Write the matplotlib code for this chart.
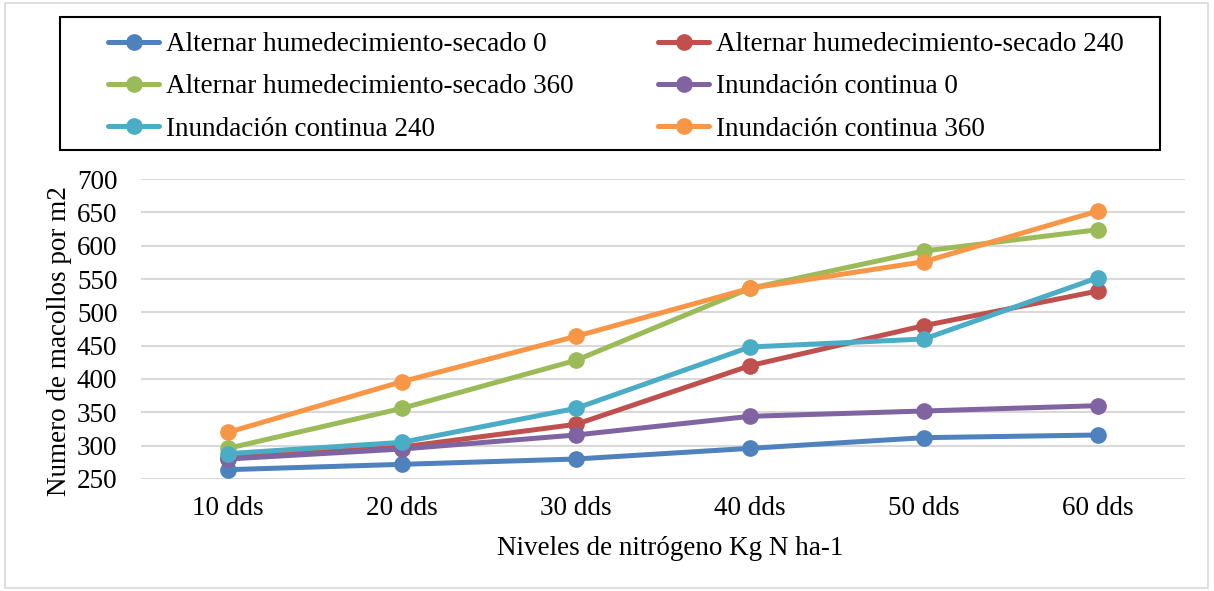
import matplotlib
matplotlib.use("Agg")
import matplotlib.pyplot as plt
from matplotlib.patches import Rectangle

# Tillers per m2 by sampling date, six water/N treatments
categories = ["10 dds", "20 dds", "30 dds", "40 dds", "50 dds", "60 dds"]

ahs_0 = [264, 272, 280, 296, 312, 316]
ahs_240 = [282, 298, 332, 420, 480, 532]
ahs_360 = [296, 356, 428, 536, 592, 624]
ic_0 = [280, 295, 316, 344, 352, 360]
ic_240 = [288, 305, 356, 448, 460, 552]
ic_360 = [320, 396, 464, 536, 576, 652]

labels = [
    "Alternar humedecimiento-secado 0",
    "Alternar humedecimiento-secado 240",
    "Alternar humedecimiento-secado 360",
    "Inundación continua 0",
    "Inundación continua 240",
    "Inundación continua 360",
]
series = [ahs_0, ahs_240, ahs_360, ic_0, ic_240, ic_360]
colors = ["#4F81BD", "#C0504D", "#9BBB59", "#8064A2", "#4BACC6", "#F79646"]

yticks = list(range(250, 701, 50))

W, H = 1214, 591
FS = 19.5

plt.rcParams["font.family"] = ["Liberation Serif", "DejaVu Serif"]

fig = plt.figure(figsize=(W / 100, H / 100), dpi=100)
ax = fig.add_axes([141 / W, 1 - 479 / H, (1185 - 141) / W, (479 - 179) / H])

x = list(range(len(categories)))
handles = []
for vals, lab, col in zip(series, labels, colors):
    h, = ax.plot(x, vals, color=col, lw=3.6, marker="o", ms=11,
                 solid_capstyle="round", label=lab)
    handles.append(h)

ax.set_xlim(-0.5, len(categories) - 0.5)
ax.set_ylim(250, 700)
ax.set_yticks(yticks)
ax.set_xticks(x)
ax.set_xticklabels(categories)
ax.grid(axis="y", color="#D9D9D9", lw=1.5)
ax.set_axisbelow(True)
for s in ax.spines.values():
    s.set_visible(False)
ax.tick_params(length=0, labelsize=FS, colors="black")
ax.tick_params(axis="x", pad=12)
ax.tick_params(axis="y", pad=17)

ax.set_xlabel("Niveles de nitrógeno Kg N ha-1", fontsize=FS)
ax.xaxis.set_label_coords(0.507, (479 - 536) / 300)
ax.set_ylabel("Numero de macollos por m2", fontsize=FS)
ax.yaxis.set_label_coords((72 - 141) / 1044, 0.46)

# two single-column legends so each column sits at a fixed x
for cols, x0 in (([0, 2, 4], 108), ([1, 3, 5], 658)):
    fig.legend([handles[i] for i in cols], [labels[i] for i in cols],
               loc="center left", bbox_to_anchor=(x0 / W, 1 - 87 / H),
               fontsize=FS, frameon=False, handlelength=1.9,
               handletextpad=0.25, labelspacing=0.64,
               borderpad=0, borderaxespad=0)

# legend frame
fig.add_artist(Rectangle((60 / W, 1 - 150 / H), 1100 / W, 133 / H,
                         transform=fig.transFigure, fill=False,
                         edgecolor="black", lw=1.5))

# outer chart border
fig.add_artist(Rectangle((5 / W, 3 / H), 1203 / W, 585 / H,
                         transform=fig.transFigure, fill=False,
                         edgecolor="#D9D9D9", lw=1.2))

fig.savefig("out.png", dpi=100, facecolor="white")
